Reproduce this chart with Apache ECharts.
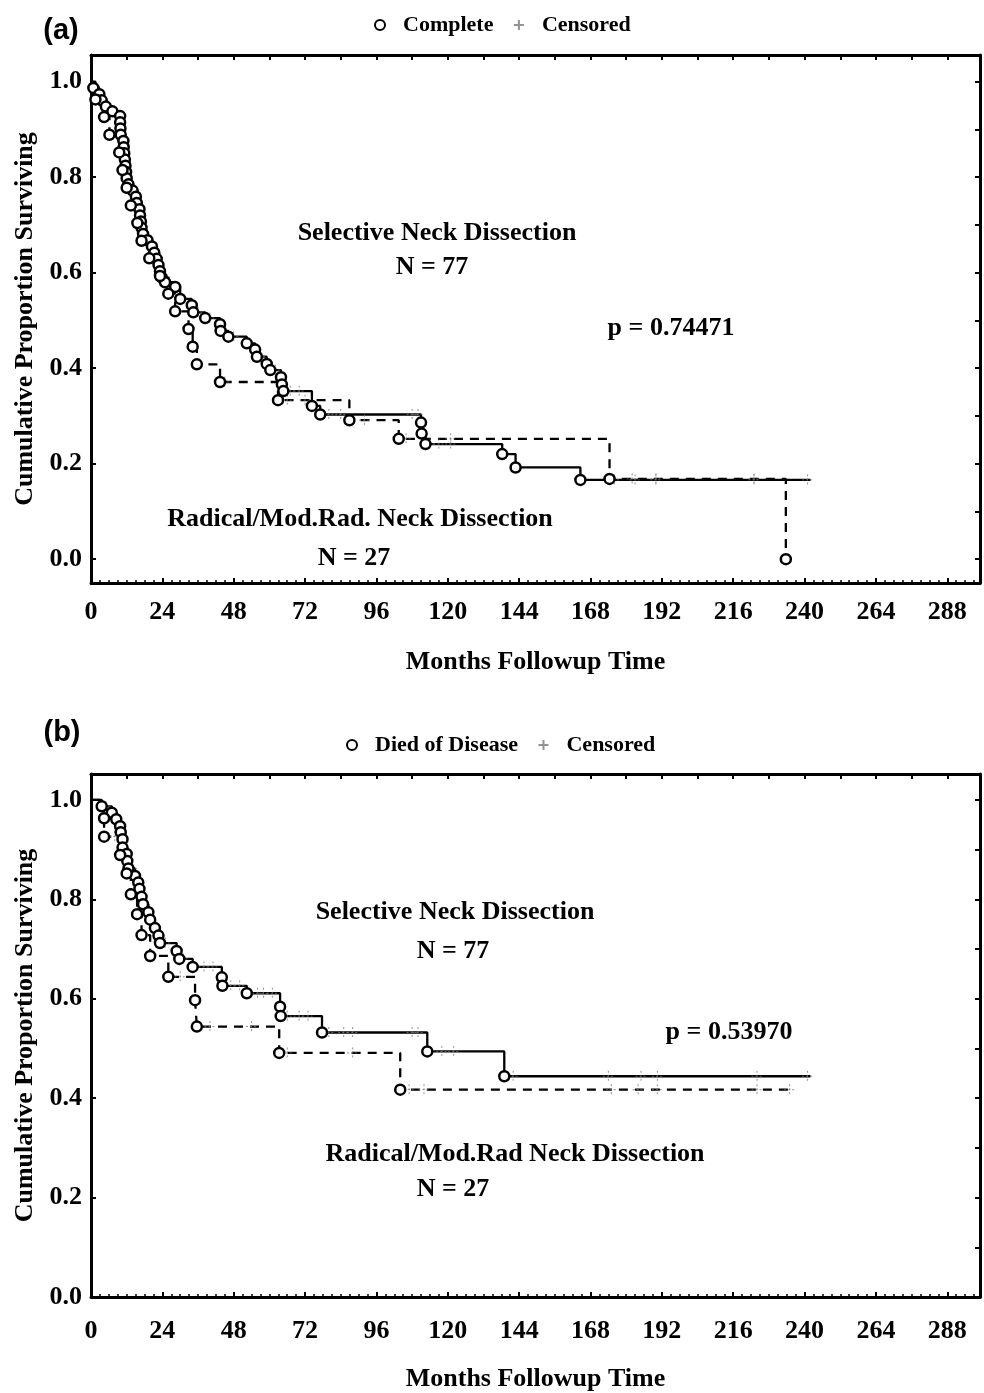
<!DOCTYPE html>
<html><head><meta charset="utf-8">
<script src="https://cdn.jsdelivr.net/npm/echarts@6/dist/echarts.min.js"></script>
<style>html,body{margin:0;padding:0;background:#fff}#c{width:984px;height:1393px}</style>
</head><body><div id="c"></div>
<script>
// ---------- Panel (a) ----------
const aSelEventMonths = [0.8, 2.8, 3.6, 5.0, 7.2, 9.8, 9.8, 9.9, 10.0, 10.9, 11.0, 11.2, 11.4, 11.6, 11.8, 12.0, 12.6, 14.0, 15.1, 15.4, 16.3, 16.5, 16.8, 17.0, 17.5, 19.0, 20.5, 21.3, 22.1, 22.7, 23.2, 23.8, 24.9, 28.3, 30.0, 33.9, 34.4, 38.4, 43.4, 43.6, 46.2, 52.4, 55.2, 55.8, 59.1, 60.3, 63.9, 64.2, 64.7, 74.3, 77.1, 111.0, 111.2, 112.5, 138.3, 142.8, 164.6];
const aSelEventSurv = [0.987, 0.974, 0.961, 0.948, 0.938, 0.928, 0.915, 0.902, 0.889, 0.876, 0.863, 0.850, 0.837, 0.824, 0.811, 0.798, 0.785, 0.772, 0.759, 0.746, 0.733, 0.720, 0.707, 0.694, 0.681, 0.668, 0.655, 0.642, 0.629, 0.616, 0.603, 0.590, 0.580, 0.570, 0.545, 0.532, 0.517, 0.505, 0.492, 0.478, 0.466, 0.452, 0.439, 0.424, 0.409, 0.396, 0.381, 0.366, 0.352, 0.321, 0.303, 0.286, 0.263, 0.241, 0.220, 0.192, 0.166];
const aSelCensorMonths = [36, 40, 48, 57, 62, 67, 70, 80, 84, 108, 110, 114, 117, 121, 143, 176, 183, 190, 223, 241];
const aSelLastFollowup = 242;

const aRadEventMonths = [1.5, 4.4, 6.2, 9.5, 10.6, 12.0, 13.4, 15.6, 17.0, 19.6, 23.2, 26.0, 28.3, 32.8, 34.2, 35.6, 43.4, 62.9, 86.9, 103.5, 174.4, 233.7];
const aRadEventSurv = [0.963, 0.926, 0.889, 0.852, 0.815, 0.778, 0.741, 0.704, 0.667, 0.630, 0.593, 0.556, 0.519, 0.482, 0.445, 0.408, 0.371, 0.333, 0.291, 0.252, 0.168, 0];
const aRadCensorMonths = [45, 66, 72, 92, 106, 121, 182, 190, 223];
const aRadLastFollowup = 233.7;

// ---------- Panel (b) ----------
const bSelEventMonths = [3.6, 7.0, 8.5, 9.8, 10.0, 10.6, 10.6, 12.0, 12.2, 12.6, 14.8, 15.9, 16.3, 17.0, 17.5, 19.3, 19.9, 21.5, 22.7, 23.2, 28.8, 29.7, 34.2, 44.0, 44.2, 52.4, 63.6, 63.8, 77.7, 113.1, 139.0];
const bSelEventSurv = [0.987, 0.974, 0.961, 0.947, 0.935, 0.921, 0.904, 0.891, 0.877, 0.862, 0.847, 0.834, 0.821, 0.805, 0.790, 0.774, 0.759, 0.742, 0.727, 0.712, 0.696, 0.680, 0.664, 0.643, 0.626, 0.611, 0.584, 0.565, 0.532, 0.494, 0.444];
const bSelCensorMonths = [5, 11, 14, 18, 25, 31, 38, 41, 47, 50, 56, 58, 61, 66, 70, 73, 80, 85, 88, 108, 110, 118, 122, 142, 174, 185, 190.5, 224, 241];
const bSelLastFollowup = 242;

const bRadEventMonths = [4.4, 4.4, 9.8, 12.0, 13.4, 15.5, 17.0, 19.9, 26.0, 35.0, 35.6, 63.3, 104.0];
const bRadEventSurv = [0.963, 0.926, 0.889, 0.852, 0.810, 0.770, 0.728, 0.686, 0.644, 0.597, 0.544, 0.491, 0.417];
const bRadCensorMonths = [8, 20, 30, 40, 54, 66, 88, 107, 112, 175, 184, 190.5, 224, 235];
const bRadLastFollowup = 235;

// ---------- Axis ticks ----------
const yLabelValues = [0, 0.2, 0.4, 0.6, 0.8, 1.0];
const yMinorTickValues = [0, 0.1, 0.2, 0.3, 0.4, 0.5, 0.6, 0.7, 0.8, 0.9, 1.0];
const xLabelStep = 24;
const xTopTickStep = 12;

// ---------- helpers ----------
function stepData(ts, ss, end) {
  const d = [[0, 1]];
  ts.forEach((t, i) => d.push([t, ss[i]]));
  d.push([end, ss[ss.length - 1]]);
  return d;
}
function eventPoints(ts, ss) { return ts.map((t, i) => [t, ss[i]]); }
function survAt(ts, ss, t) {
  let s = 1;
  for (let i = 0; i < ts.length; i++) if (ts[i] <= t) s = ss[i];
  return s;
}
function censorPoints(cts, ts, ss) { return cts.map(t => [t, survAt(ts, ss, t)]); }

const SERIF = '"Liberation Serif", "Times New Roman", serif';
const SANS = '"Liberation Sans", Arial, sans-serif';
const CENSOR_PATH = 'path://M5,0L5,10M0,5L10,5';

const labelStyle = { fontFamily: SERIF, fontWeight: 'bold', fontSize: 26, color: '#000' };
const nameStyle = { fontFamily: SERIF, fontWeight: 'bold', fontSize: 26, color: '#000' };
const axisLine = { show: true, onZero: false, lineStyle: { color: '#000', width: 3 } };

function bottomX(grid, margin, nameGap) {
  return {
    type: 'value', gridIndex: grid, position: 'bottom', min: 0, max: 299, interval: xLabelStep,
    axisLine: axisLine,
    axisTick: { show: true, inside: true, length: 5, lineStyle: { color: '#000', width: 2 } },
    minorTick: { show: true, splitNumber: 8, length: 3, lineStyle: { color: '#000', width: 1.5 } },
    axisLabel: Object.assign({ margin: margin, showMaxLabel: false }, labelStyle),
    splitLine: { show: false },
    name: 'Months Followup Time', nameLocation: 'middle', nameGap: nameGap,
    nameTextStyle: nameStyle
  };
}
function topX(grid) {
  return {
    type: 'value', gridIndex: grid, position: 'top', min: 0, max: 299, interval: xTopTickStep,
    axisLine: axisLine,
    axisTick: { show: true, inside: true, length: 5, lineStyle: { color: '#000', width: 2 } },
    axisLabel: { show: false }, splitLine: { show: false }
  };
}
function leftY(grid, min, max) {
  return {
    type: 'value', gridIndex: grid, position: 'left', min: min, max: max,
    axisLine: axisLine,
    axisTick: { show: true, inside: true, length: 5, customValues: yLabelValues, lineStyle: { color: '#000', width: 2 } },
    axisLabel: Object.assign({ margin: 9, customValues: yLabelValues, formatter: v => v.toFixed(1) }, labelStyle),
    splitLine: { show: false },
    name: 'Cumulative Proportion Surviving', nameLocation: 'middle', nameGap: 45, nameRotate: 90,
    nameTextStyle: nameStyle
  };
}
function rightY(grid, min, max) {
  return {
    type: 'value', gridIndex: grid, position: 'right', min: min, max: max,
    axisLine: axisLine,
    axisTick: { show: true, inside: true, length: 5, customValues: yMinorTickValues, lineStyle: { color: '#000', width: 2 } },
    axisLabel: { show: false }, splitLine: { show: false }
  };
}

function panelSeries(xi, yi, eventName, sel, rad) {
  const lineBase = { type: 'line', xAxisIndex: xi, yAxisIndex: yi, step: 'end', symbol: 'none', z: 2, silent: true };
  const circ = { type: 'scatter', xAxisIndex: xi, yAxisIndex: yi, name: eventName, symbol: 'circle', symbolSize: 10,
    itemStyle: { color: '#fff', borderColor: '#000', borderWidth: 2.5, opacity: 1 }, z: 5 };
  const cens = { type: 'scatter', xAxisIndex: xi, yAxisIndex: yi, name: 'Censored', symbol: CENSOR_PATH, symbolSize: 11,
    itemStyle: { color: 'none', borderColor: '#777', borderWidth: 1, borderType: [2, 2] }, z: 4 };
  return [
    Object.assign({}, lineBase, { name: 'Selective', data: stepData(sel.t, sel.s, sel.end), lineStyle: { color: '#000', width: 2.3, type: 'solid' } }),
    Object.assign({}, lineBase, { name: 'Radical', data: stepData(rad.t, rad.s, rad.end), lineStyle: { color: '#000', width: 2.3, type: [9, 7] } }),
    Object.assign({}, cens, { data: censorPoints(sel.c, sel.t, sel.s) }),
    Object.assign({}, cens, { data: censorPoints(rad.c, rad.t, rad.s) }),
    Object.assign({}, circ, { data: eventPoints(sel.t, sel.s) }),
    Object.assign({}, circ, { data: eventPoints(rad.t, rad.s) })
  ];
}

function txt(x, y, text, font) {
  return { type: 'text', x: x, y: y, silent: true,
    style: { text: text, font: font || ('bold 26px ' + SERIF), fill: '#000', textAlign: 'center', textVerticalAlign: 'middle' } };
}

const legendCommon = {
  orient: 'horizontal', itemWidth: 36, itemHeight: 10, itemGap: 18, selectedMode: false,
  textStyle: { fontFamily: SERIF, fontWeight: 'bold', fontSize: 22, color: '#000' }
};

const chart = echarts.init(document.getElementById('c'), null, { renderer: 'canvas' });
chart.setOption({
  animation: false,
  backgroundColor: '#fff',
  grid: [
    { left: 91, top: 55, width: 889, height: 528 },
    { left: 91, top: 774, width: 889, height: 530 }
  ],
  xAxis: [bottomX(0, 16, 66), topX(0), bottomX(1, 21, 69), topX(1)],
  yAxis: [leftY(0, -0.05, 1.056), rightY(0, -0.05, 1.056), leftY(1, 0, 1.052), rightY(1, 0, 1.052)],
  legend: [
    Object.assign({}, legendCommon, { left: 369, top: 9, data: [{ name: 'Complete', icon: 'circle' }, { name: 'Censored', icon: CENSOR_PATH }] }),
    Object.assign({}, legendCommon, { left: 341, top: 729, data: [{ name: 'Died of Disease', icon: 'circle' }, { name: 'Censored', icon: CENSOR_PATH }] })
  ],
  series: [].concat(
    panelSeries(0, 0, 'Complete',
      { t: aSelEventMonths, s: aSelEventSurv, c: aSelCensorMonths, end: aSelLastFollowup },
      { t: aRadEventMonths, s: aRadEventSurv, c: aRadCensorMonths, end: aRadLastFollowup }),
    panelSeries(2, 2, 'Died of Disease',
      { t: bSelEventMonths, s: bSelEventSurv, c: bSelCensorMonths, end: bSelLastFollowup },
      { t: bRadEventMonths, s: bRadEventSurv, c: bRadCensorMonths, end: bRadLastFollowup })
  ),
  graphic: [
    txt(61, 31, '(a)', 'bold 29px ' + SANS),
    txt(437, 233, 'Selective Neck Dissection'),
    txt(432, 267, 'N = 77'),
    txt(671, 328, 'p = 0.74471'),
    txt(360, 519, 'Radical/Mod.Rad. Neck Dissection'),
    txt(354, 558, 'N = 27'),
    txt(62, 733, '(b)', 'bold 29px ' + SANS),
    txt(455, 912, 'Selective Neck Dissection'),
    txt(453, 951, 'N = 77'),
    txt(729, 1032, 'p = 0.53970'),
    txt(515, 1154, 'Radical/Mod.Rad Neck Dissection'),
    txt(453, 1189, 'N = 27')
  ]
});
</script>
</body></html>
